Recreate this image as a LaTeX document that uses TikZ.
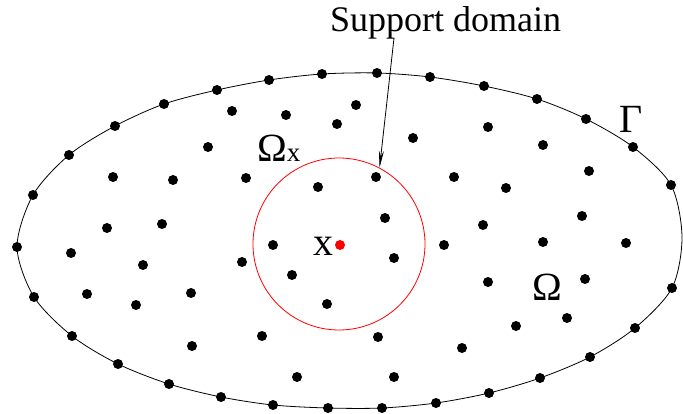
\documentclass[tikz,border=0pt]{standalone}
\usepackage{fontspec}
\setmainfont{Liberation Serif}
\usetikzlibrary{arrows.meta}
\tikzset{
  lbl/.style={inner sep=0pt, anchor=base west, font=\fontsize{40}{40}\selectfont},
  fieldpt/.style={fill=black},
}
\begin{document}
\begin{tikzpicture}[x=1pt,y=-1pt]
\useasboundingbox (0,0) rectangle (683,414);
% boundary Gamma
\draw[line width=0.8pt] plot[smooth cycle] coordinates {(17,247) (33,195) (69,155) (115,126) (164,104) (217,90) (269,80) (322,74) (377,73) (430,77) (484,86) (537,99) (586,119) (633,147) (671,185) (682,237) (672,288) (635,328) (590,357) (540,378) (489,393) (436,403) (382,408) (328,408) (273,405) (221,397) (169,384) (118,364) (72,336) (34,297)};
\foreach \x/\y in {17/247, 33/195, 69/155, 115/126, 164/104, 217/90, 269/80, 322/74, 377/73, 430/77, 484/86, 537/99, 586/119, 633/147, 671/185, 672/288, 635/328, 590/357, 540/378, 489/393, 436/403, 382/408, 328/408, 273/405, 221/397, 169/384, 118/364, 72/336, 34/297}
  \fill[fieldpt] (\x,\y) circle (5pt);
% field nodes inside Omega
\foreach \x/\y in {232/111, 286/115, 337/124, 356/105, 208/147, 413/138, 488/127, 543/145, 113/177, 173/180, 246/178, 318/187, 376/177, 454/177, 506/188, 589/171, 107/228, 162/224, 385/218, 483/225, 582/216, 71/253, 143/265, 242/262, 273/245, 444/245, 543/242, 626/243, 394/258, 292/275, 488/282, 585/279, 87/294, 136/305, 191/293, 327/304, 567/318, 516/326, 192/346, 262/336, 378/337, 462/348, 297/377, 394/377}
  \fill[fieldpt] (\x,\y) circle (5pt);
% support domain of x
\node[circle, draw=red, line width=0.8pt, inner sep=0pt, minimum size=172pt] (supp) at (339,244) {};
\node[circle, fill=red, inner sep=0pt, minimum size=10pt] (xpt) at (340,245) {};
% labels
\node[lbl] (xlabel) at (313,256) {x};
\node[lbl] (omx) at (257,162) {Ω{\fontsize{27}{27}\selectfont x}};
\node[lbl] (om) at (532,301) {Ω};
\node[lbl] (gam) at (619,133) {Γ};
\node[lbl, font=\fontsize{36}{36}\selectfont] (sdlabel) at (330,32) {Support domain};
\coordinate (sdfoot) at (394,38);
\draw[line width=0.8pt, -{Stealth[length=17pt, width=5pt]}] (sdfoot) -- (supp.62);
\end{tikzpicture}
\end{document}
